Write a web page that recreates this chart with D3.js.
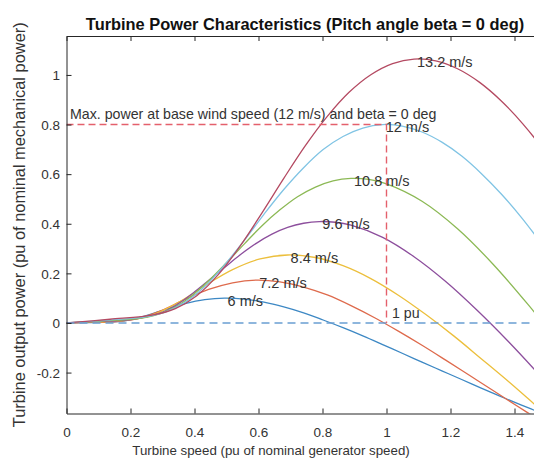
<!DOCTYPE html>
<html>
<head>
<meta charset="utf-8">
<script src="https://cdn.jsdelivr.net/npm/d3@7"></script>
<style>
  body { margin: 0; background: #fff; }
  svg { display: block; font-family: "Liberation Sans", Arial, sans-serif; }
</style>
</head>
<body>
<div id="chart"></div>
<script>
// wind speeds (m/s) and the power curve of each one: [turbine speed pu, power pu]
const windSpeeds = [6, 7.2, 8.4, 9.6, 10.8, 12, 13.2];
const windLabels = ["6 m/s", "7.2 m/s", "8.4 m/s", "9.6 m/s", "10.8 m/s", "12 m/s", "13.2 m/s"];

const p6 = [[0,0],[0.062,0.001],[0.123,0.003],[0.185,0.010],[0.247,0.029],[0.309,0.055],[0.370,0.078],
  [0.432,0.094],[0.494,0.100],[0.556,0.096],[0.617,0.084],[0.679,0.065],[0.741,0.041],[0.802,0.012],
  [0.864,-0.019],[0.926,-0.052],[0.988,-0.087],[1.049,-0.122],[1.111,-0.158],[1.173,-0.193],
  [1.235,-0.228],[1.296,-0.263],[1.358,-0.297],[1.420,-0.330],[1.481,-0.362],[1.543,-0.394]];
const p72 = [[0,0],[0.074,0.002],[0.148,0.005],[0.222,0.018],[0.296,0.050],[0.370,0.095],[0.444,0.135],
  [0.519,0.162],[0.593,0.173],[0.667,0.166],[0.741,0.145],[0.815,0.113],[0.889,0.070],[0.963,0.021],
  [1.037,-0.033],[1.111,-0.090],[1.185,-0.150],[1.259,-0.211],[1.333,-0.272],[1.407,-0.334],[1.481,-0.394]];
const p84 = [[0,0],[0.086,0.004],[0.173,0.009],[0.259,0.028],[0.346,0.080],[0.432,0.150],[0.519,0.215],
  [0.605,0.258],[0.691,0.274],[0.778,0.264],[0.864,0.231],[0.951,0.179],[1.037,0.112],[1.123,0.034],
  [1.210,-0.052],[1.296,-0.144],[1.383,-0.238],[1.469,-0.335],[1.556,-0.433]];
const p96 = [[0,0],[0.099,0.006],[0.198,0.013],[0.296,0.042],[0.346,0.075],[0.395,0.120],[0.444,0.171],
  [0.494,0.224],[0.543,0.275],[0.593,0.321],[0.642,0.358],[0.691,0.385],[0.741,0.402],[0.790,0.409],
  [0.840,0.406],[0.889,0.394],[0.988,0.345],[1.086,0.267],[1.185,0.167],[1.284,0.050],[1.383,-0.078],
  [1.481,-0.214],[1.580,-0.356]];
const p108 = [[0,0],[0.111,0.008],[0.222,0.018],[0.278,0.032],[0.333,0.060],[0.389,0.107],[0.444,0.170],
  [0.500,0.243],[0.556,0.319],[0.611,0.392],[0.667,0.456],[0.722,0.509],[0.778,0.548],[0.833,0.573],
  [0.889,0.583],[0.944,0.579],[1.000,0.561],[1.111,0.491],[1.222,0.380],[1.333,0.237],[1.444,0.072],
  [1.500,-0.018],[1.556,-0.111]];
const p12 = [[0,0],[0.123,0.011],[0.247,0.025],[0.309,0.044],[0.370,0.083],[0.432,0.147],[0.494,0.234],
  [0.556,0.334],[0.617,0.438],[0.679,0.538],[0.741,0.626],[0.802,0.699],[0.864,0.752],[0.926,0.786],
  [0.988,0.800],[1.049,0.794],[1.111,0.770],[1.173,0.729],[1.235,0.673],[1.296,0.603],[1.358,0.521],
  [1.420,0.428],[1.481,0.326],[1.543,0.216]];
const p132 = [[0,0],[0.136,0.015],[0.272,0.033],[0.340,0.058],[0.407,0.110],[0.475,0.196],[0.543,0.311],
  [0.611,0.444],[0.679,0.583],[0.747,0.716],[0.815,0.833],[0.883,0.930],[0.951,1.001],[1.019,1.046],
  [1.086,1.064],[1.154,1.057],[1.222,1.025],[1.290,0.971],[1.358,0.896],[1.426,0.803],[1.494,0.693],
  [1.562,0.569]];
const curves = [p6, p72, p84, p96, p108, p12, p132];

// matlab default line order, a bit washed out like the screenshot
const colors = ["#3d88c4", "#de6a4c", "#ecbf3c", "#8d4f9d", "#8cb955", "#80c4e4", "#b44a62"];

const xTicks = [0, 0.2, 0.4, 0.6, 0.8, 1, 1.2, 1.4];
const xTickLabels = ["0", "0.2", "0.4", "0.6", "0.8", "1", "1.2", "1.4"];
const yTicks = [-0.2, 0, 0.2, 0.4, 0.6, 0.8, 1];
const yTickLabels = ["-0.2", "0", "0.2", "0.4", "0.6", "0.8", "1"];

// base point: 12 m/s gives 0.8 pu at 1 pu speed
const basePoint = [1, 0.8];

const W = 534, H = 459;
const margin = {top: 36, left: 66.5};
const width = 480, height = 377.5;

const svg = d3.select("#chart").append("svg")
  .attr("width", W).attr("height", H);

const x = d3.scaleLinear().domain([0, 1.5]).range([0, width]);
const y = d3.scaleLinear().domain([-0.365, 1.157]).range([height, 0]);

const g = svg.append("g")
  .attr("transform", "translate(" + margin.left + "," + margin.top + ")");

g.append("clipPath").attr("id", "clip")
  .append("rect").attr("width", width).attr("height", height);

const line = d3.line()
  .x(d => x(d[0]))
  .y(d => y(d[1]))
  .curve(d3.curveCatmullRom);

const plot = g.append("g").attr("clip-path", "url(#clip)");

plot.selectAll(".curve")
  .data(curves)
  .join("path")
    .attr("class", "curve")
    .attr("d", line)
    .attr("fill", "none")
    .attr("stroke", (d, i) => colors[i])
    .attr("stroke-width", 1.3);

// dashed reference lines
const straight = d3.line().x(d => x(d[0])).y(d => y(d[1]));
plot.append("path")
  .attr("d", straight([[0, 0], [1.5, 0]]))
  .attr("fill", "none").attr("stroke", "#6a9fd2")
  .attr("stroke-width", 1.4).attr("stroke-dasharray", "8,5");
plot.append("path")
  .attr("d", straight([[0, basePoint[1]], basePoint, [basePoint[0], 0]]))
  .attr("fill", "none").attr("stroke", "#e4606c")
  .attr("stroke-width", 1.4).attr("stroke-dasharray", "7,4");

// curve labels at the max of each curve
const labelColor = "#333";
curves.forEach((c, i) => {
  const top = c.reduce((a, b) => b[1] > a[1] ? b : a);
  g.append("text")
    .attr("x", x(top[0]) + 3)
    .attr("y", y(top[1]) + 7.5)
    .attr("font-size", 14.5).attr("fill", labelColor)
    .text(windLabels[i]);
});

g.append("text")
  .attr("x", x(0) + 3.5).attr("y", y(basePoint[1]) - 5.6)
  .attr("font-size", 14.2).attr("fill", labelColor)
  .text("Max. power at base wind speed (12 m/s) and beta = 0 deg");

g.append("text")
  .attr("x", x(basePoint[0]) + 5.5).attr("y", y(0) - 4.5)
  .attr("font-size", 14.2).attr("fill", labelColor)
  .text("1 pu");

// axes, matlab box style with inward ticks
const axisColor = "#262626";
function styleAxis(sel) {
  sel.select(".domain").attr("stroke", axisColor).attr("stroke-width", 1);
  sel.selectAll(".tick line").attr("stroke", axisColor);
}

const xAxis = g.append("g")
  .attr("transform", "translate(0," + height + ")")
  .call(d3.axisBottom(x).tickValues(xTicks).tickFormat((d, i) => xTickLabels[i])
    .tickSizeInner(-5).tickSizeOuter(0));
xAxis.selectAll(".tick text")
  .attr("y", 23).attr("dy", null)
  .attr("font-size", 13.5).attr("fill", labelColor);

const yAxis = g.append("g")
  .call(d3.axisLeft(y).tickValues(yTicks).tickFormat((d, i) => yTickLabels[i])
    .tickSizeInner(-5).tickSizeOuter(0));
yAxis.selectAll(".tick text")
  .attr("x", -6.5).attr("y", 4.8).attr("dy", null)
  .attr("font-size", 13.5).attr("fill", labelColor);

const topAxis = g.append("g")
  .call(d3.axisTop(x).tickValues(xTicks).tickFormat("").tickSizeInner(-5).tickSizeOuter(0));
const rightAxis = g.append("g")
  .attr("transform", "translate(" + width + ",0)")
  .call(d3.axisRight(y).tickValues(yTicks).tickFormat("").tickSizeInner(-5).tickSizeOuter(0));

[xAxis, yAxis, topAxis, rightAxis].forEach(styleAxis);
svg.selectAll(".tick text").attr("font-family", null);

// titles
svg.append("text")
  .attr("x", 305).attr("y", 30)
  .attr("text-anchor", "middle")
  .attr("font-size", 16.4).attr("font-weight", "bold").attr("fill", "#111")
  .text("Turbine Power Characteristics (Pitch angle beta = 0 deg)");

svg.append("text")
  .attr("x", 271).attr("y", 455)
  .attr("text-anchor", "middle")
  .attr("font-size", 13.3).attr("fill", labelColor)
  .text("Turbine speed (pu of nominal generator speed)");

svg.append("text")
  .attr("transform", "translate(25," + (margin.top + height / 2) + ") rotate(-90)")
  .attr("text-anchor", "middle")
  .attr("font-size", 16.4).attr("fill", labelColor)
  .text("Turbine output power (pu of nominal mechanical power)");
</script>
</body>
</html>
